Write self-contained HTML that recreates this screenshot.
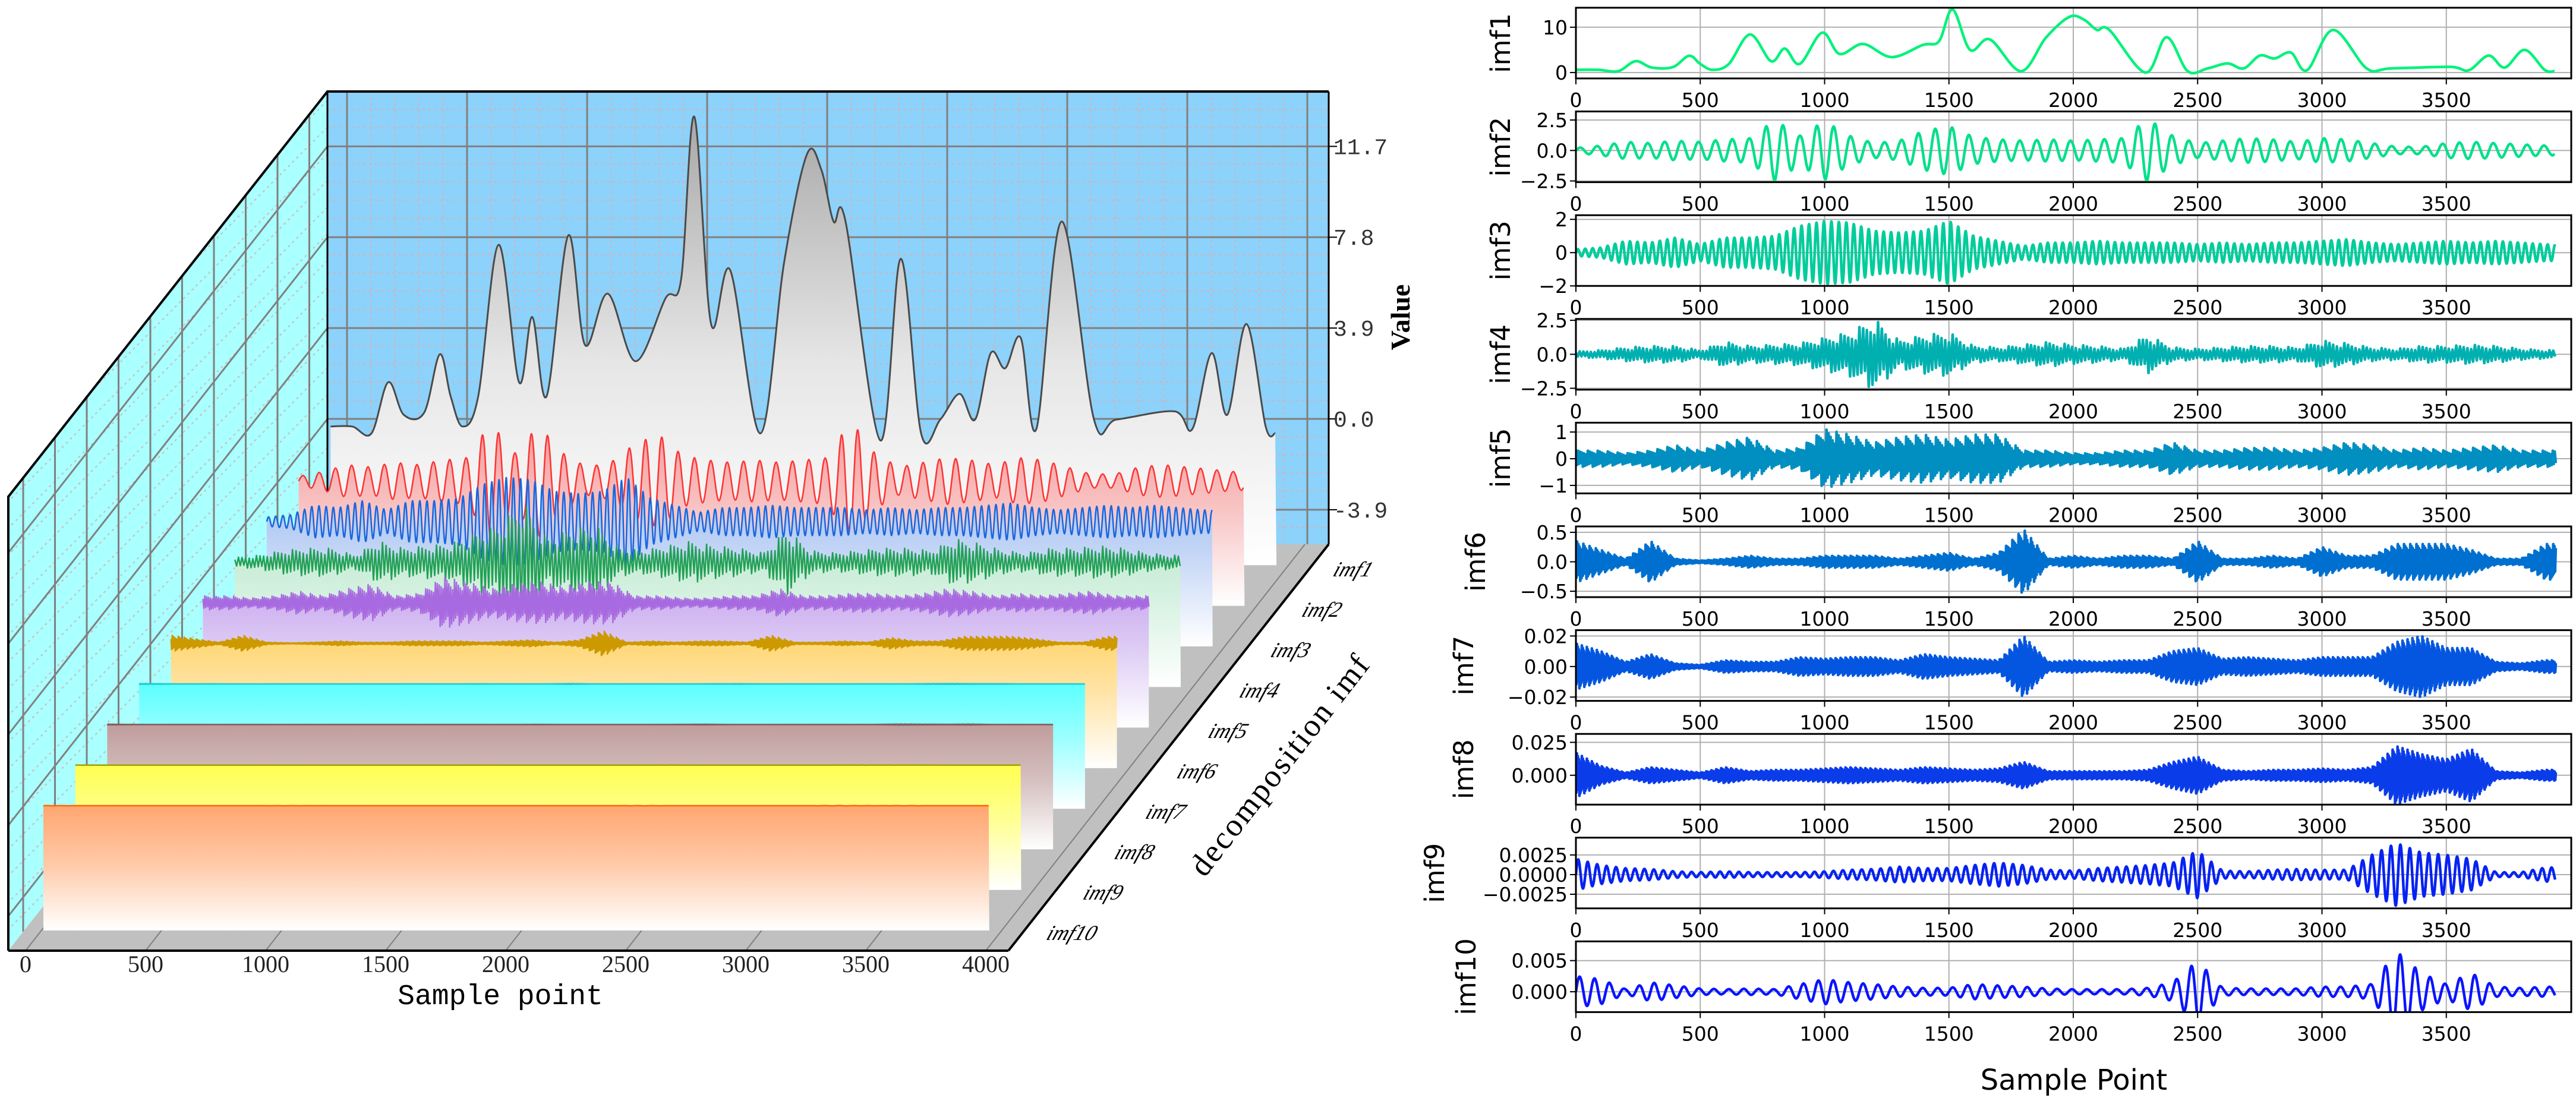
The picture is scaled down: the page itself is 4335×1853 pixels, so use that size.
<!DOCTYPE html>
<html><head><meta charset="utf-8"><style>html,body{margin:0;padding:0;background:#fff;overflow:hidden}svg{display:block}</style></head>
<body>
<svg id="fig" xmlns="http://www.w3.org/2000/svg" width="4335" height="1853" viewBox="0 0 4335 1853">
<defs id="defs"></defs>
<g id="left"></g>
<g id="right"></g>
</svg>
<script>
// ---- data ----
const imfNames = ["imf1","imf2","imf3","imf4","imf5","imf6","imf7","imf8","imf9","imf10"];
const imf1Samples = [0,90,170,240,305,390,455,500,550,615,700,785,840,900,990,1060,1155,1270,1395,1460,1515,1585,1665,1790,1890,1985,2045,2095,2145,2290,2375,2460,2540,2620,2685,2750,2810,2875,2940,3045,3180,3275,3515,3590,3670,3735,3815,3895,3935];
const imf1Values = [0.6,0.6,0.3,2.5,1.1,1.2,3.7,1.9,0.6,1.9,8.4,2.5,5.3,1.9,8.8,4.1,6.3,3.4,6.1,6.9,13.9,5,7.3,0.3,7.7,12.3,11.6,9.4,9.4,0,7.8,0.3,0.9,2,0.9,3.75,3.1,4.4,0.5,9.4,0.9,0.9,1.25,0.5,3.75,1.1,5,0.6,0.3];
// envelope amplitudes per 100 samples (0..3900)
const imf2Env = [0.2,0.4,0.7,0.6,0.8,0.7,0.9,1.0,2.5,1.2,2.4,1.2,0.6,0.8,1.6,2.0,1.1,0.9,0.8,0.9,0.8,0.9,1.0,2.6,1.2,0.6,0.8,1.0,0.9,0.7,1.0,0.9,0.6,0.3,0.3,0.6,0.7,0.6,0.5,0.4];
const imf3Env = [0.2,0.3,0.7,0.6,0.9,0.5,0.9,0.9,1.0,1.6,1.9,1.8,1.3,1.2,1.3,1.9,1.0,0.7,0.4,0.6,0.6,0.7,0.6,0.6,0.6,0.5,0.6,0.5,0.6,0.6,0.7,0.8,0.6,0.5,0.6,0.7,0.6,0.7,0.6,0.5];
const imf4Env = [0.2,0.3,0.5,0.6,0.6,0.3,0.9,0.6,0.7,0.8,1.2,1.6,2.6,1.0,1.4,1.6,0.6,0.5,0.7,0.9,0.7,0.6,0.4,1.4,0.5,0.4,0.5,0.6,0.6,0.5,1.0,0.8,0.5,0.4,0.6,0.6,0.7,0.6,0.4,0.3];
const imf5Env = [0.3,0.3,0.2,0.3,0.5,0.3,0.6,0.8,0.3,0.4,1.1,0.9,0.6,0.8,0.9,0.7,0.9,0.9,0.3,0.3,0.2,0.2,0.3,0.3,0.6,0.3,0.3,0.4,0.4,0.3,0.4,0.6,0.5,0.3,0.4,0.3,0.4,0.5,0.3,0.3];
const imf6Env = [0.35,0.2,0.05,0.35,0.05,0.02,0.05,0.1,0.05,0.05,0.1,0.1,0.1,0.05,0.1,0.15,0.05,0.15,0.55,0.05,0.1,0.05,0.1,0.1,0.05,0.35,0.05,0.05,0.1,0.05,0.25,0.1,0.1,0.3,0.3,0.3,0.2,0.05,0.05,0.3];
const imf7Env = [0.015,0.01,0.003,0.008,0.002,0.001,0.004,0.003,0.003,0.006,0.005,0.006,0.006,0.004,0.008,0.006,0.005,0.004,0.02,0.003,0.004,0.003,0.004,0.004,0.01,0.012,0.005,0.006,0.005,0.004,0.006,0.006,0.006,0.016,0.02,0.012,0.012,0.003,0.002,0.004];
const imf8Env = [0.017,0.007,0.002,0.006,0.004,0.002,0.006,0.003,0.004,0.004,0.005,0.006,0.005,0.004,0.006,0.005,0.004,0.005,0.01,0.003,0.003,0.003,0.003,0.004,0.01,0.014,0.004,0.003,0.004,0.004,0.005,0.004,0.006,0.022,0.016,0.012,0.02,0.003,0.002,0.004];
const imf9Env = [0.002,0.0012,0.0008,0.0007,0.0004,0.0003,0.0004,0.0003,0.0003,0.0003,0.0004,0.0006,0.0007,0.001,0.0008,0.0008,0.0012,0.0015,0.0012,0.0006,0.0005,0.0008,0.001,0.0012,0.0015,0.003,0.0005,0.0004,0.0006,0.0007,0.0006,0.0006,0.0025,0.004,0.0028,0.0025,0.002,0.0003,0.0003,0.0009];
const imf10Env = [0.0025,0.002,0.0004,0.0015,0.001,0.0005,0.0004,0.0005,0.0004,0.0012,0.002,0.0015,0.0012,0.0008,0.0006,0.0006,0.0012,0.001,0.0008,0.0005,0.0004,0.0004,0.0004,0.0006,0.0015,0.005,0.0006,0.0005,0.0005,0.0005,0.0008,0.0008,0.0012,0.0065,0.003,0.0012,0.003,0.0008,0.0006,0.0008];
const xTicks = [0,500,1000,1500,2000,2500,3000,3500];
const leftXTicks = [0,500,1000,1500,2000,2500,3000,3500,4000];
const valueTicks = [-3.9,0.0,3.9,7.8,11.7];
const yLims = [[-1.3,14.3],[-2.6,3.2],[-2.0,2.25],[-2.6,2.6],[-1.3,1.35],[-0.6,0.6],[-0.0225,0.0238],[-0.0223,0.0314],[-0.0043,0.0047],[-0.00327,0.00808]];
const yTickVals = [[0,10],[-2.5,0,2.5],[-2,0,2],[-2.5,0,2.5],[-1,0,1],[-0.5,0,0.5],[-0.02,0,0.02],[0,0.025],[-0.0025,0,0.0025],[0,0.005]];
const yTickLabels = [["0","10"],["\u22122.5","0.0","2.5"],["\u22122","0","2"],["\u22122.5","0.0","2.5"],["\u22121","0","1"],["\u22120.5","0.0","0.5"],["\u22120.02","0.00","0.02"],["0.000","0.025"],["\u22120.0025","0.0000","0.0025"],["0.000","0.005"]];

const NS="http://www.w3.org/2000/svg";
function mk(tag,attrs,parent,txt){const e=document.createElementNS(NS,tag);for(const k in attrs)e.setAttribute(k,attrs[k]);if(txt!==undefined)e.textContent=txt;parent.appendChild(e);return e;}
const envs=[null,imf2Env,imf3Env,imf4Env,imf5Env,imf6Env,imf7Env,imf8Env,imf9Env,imf10Env];
const periods=[0,68,30,15,8,5,4,4,38,60];
const END=3940;
function envAt(env,s){const p=s/100;const i=Math.min(Math.floor(p),env.length-1);const j=Math.min(i+1,env.length-1);const f=p-i;return env[i]*(1-f)+env[j]*f;}
function series(k){
  if(k===0){const pts=[];for(let i=0;i<imf1Samples.length;i++)pts.push([imf1Samples[i],imf1Values[i]]);return pts;}
  const env=envs[k],per=periods[k],pts=[];const step=per>=20?per/8:per/2;
  let n=0;for(let s=0;s<=END;s+=step,n++){const a=envAt(env,s);let v;
    if(per>=20)v=Math.sin(2*Math.PI*s/per)*a;else v=(n%2?-1:1)*a*(0.55+0.45*((n*7)%5)/4);
    pts.push([s,v]);}
  return pts;
}
function smoothPath(P){let d="M"+P[0][0].toFixed(1)+","+P[0][1].toFixed(1);
  for(let i=0;i<P.length-1;i++){const p0=P[Math.max(i-1,0)],p1=P[i],p2=P[i+1],p3=P[Math.min(i+2,P.length-1)];
    const c1=[p1[0]+(p2[0]-p0[0])/6,p1[1]+(p2[1]-p0[1])/6],c2=[p2[0]-(p3[0]-p1[0])/6,p2[1]-(p3[1]-p1[1])/6];
    d+="C"+c1[0].toFixed(1)+","+c1[1].toFixed(1)+" "+c2[0].toFixed(1)+","+c2[1].toFixed(1)+" "+p2[0].toFixed(1)+","+p2[1].toFixed(1);}
  return d;}
function linePath(P){return "M"+P.map(p=>p[0].toFixed(1)+","+p[1].toFixed(1)).join("L");}
function pathFor(k,P){return (k===0||periods[k]>=20)?smoothPath(P):linePath(P);}

const defs=document.getElementById('defs');
// ================= LEFT 3D CHART =================
const L=document.getElementById('left');
const SX=0.404, VS=39.2, DX=53.7, DY=-68.3;
const FX0=73, FBASE=1356, FBOT=1566;
const BWX=551,BWR=2236,BWT=154,BWB=916, ZERO_Y=705;
const lx=(s,k)=>FX0+DX*k+s*SX;
const vy=v=>ZERO_Y-v*VS;
let e=mk('rect',{x:BWX,y:BWT,width:BWR-BWX,height:BWB-BWT,fill:'#8cd2fb'},L);

for(let y=BWT+30;y<BWB;y+=30.6)mk('line',{x1:BWX,x2:BWR,y1:y,y2:y,stroke:'#d9b0b0','stroke-width':2,'stroke-dasharray':'4 6'},L);
for(let x=584;x<BWR;x+=40.4)mk('line',{x1:x,x2:x,y1:BWT,y2:BWB,stroke:'#d9b0b0','stroke-width':2,'stroke-dasharray':'4 6'},L);
for(let s=0;s<=4000;s+=500){const x=584+s*SX;if(x<BWR)mk('line',{x1:x,x2:x,y1:BWT,y2:BWB,stroke:'#808080','stroke-width':3},L);}
valueTicks.forEach(v=>{const y=vy(v);mk('line',{x1:BWX,x2:BWR,y1:y,y2:y,stroke:'#808080','stroke-width':3},L);});
// left wall
const wallPts=`14,836 ${BWX},${BWT} ${BWX},${BWB} 14,1600`;
const wc=mk('clipPath',{id:'wallclip'},defs);mk('polygon',{points:wallPts},wc);
e=mk('polygon',{points:wallPts,fill:'#aaffff'},L);

const WG=mk('g',{'clip-path':'url(#wallclip)'},L);
for(let y=BWT-300;y<1060;y+=45)mk('line',{x1:BWX,y1:y,x2:14,y2:y+540,stroke:'#d0b8b8','stroke-width':2,'stroke-dasharray':'4 6'},WG);
for(let k=0;k<10;k++){const x=39+53.5*k;const yt=836-(x-14)*684/537;mk('line',{x1:x,x2:x,y1:yt,y2:1600-(x-14)*684/537,stroke:'#808080','stroke-width':3},WG);}
valueTicks.forEach(v=>{const y=vy(v);mk('line',{x1:BWX,y1:y,x2:14,y2:Math.min(y+684,1600),stroke:'#808080','stroke-width':3},WG);});
mk('polyline',{points:`14,1600 14,836 ${BWX},${BWT} ${BWR},${BWT}`,fill:'none',stroke:'#000','stroke-width':4},L);
mk('line',{x1:BWX,x2:BWX,y1:BWT,y2:BWB,stroke:'#000','stroke-width':3},L);
// floor
e=mk('polygon',{points:`14,1600 ${BWX},${BWB} ${BWR},${BWB} 1697,1600`,fill:'#c0c0c0'},L);

leftXTicks.forEach(s=>{const x=43+s*SX;mk('line',{x1:x,y1:1600,x2:x+537,y2:BWB,stroke:'#808080','stroke-width':2},L);});
mk('line',{x1:BWR,y1:BWB,x2:1697,y2:1600,stroke:'#000','stroke-width':4},L);
mk('line',{x1:14,y1:1600,x2:1697,y2:1600,stroke:'#000','stroke-width':4},L);
mk('line',{x1:BWR,y1:BWT,x2:BWR,y2:BWB,stroke:'#000','stroke-width':3},L);
// layers
const fills=['#a8a8a8','#f59c9c','#9ebcf0','#b4e6c8','#c8a4ee','#ffd46a','#5cffff','#c09c9c','#ffff50','#ffa670'];
const mids =['#e6e6e6','#f8c4c4','#c4d6f6','#d2f0de','#dccaf4','#ffe4a8','#9effff','#d6c0c0','#ffff96','#ffc8a6'];
const strokes=['#4a4a4a','#ff3333','#1a66dd','#22a055','#a86ae0','#cc9900','#22cccc','#806060','#a0a000','#ff6600'];
for(let i=0;i<10;i++){
  const k=9-i;
  const g=mk('linearGradient',{id:'lg'+i,x1:0,y1:0,x2:0,y2:1},defs);
  mk('stop',{offset:'0','stop-color':fills[i]},g);mk('stop',{offset:i===0?'0.55':'0.45','stop-color':mids[i]},g);mk('stop',{offset:'1','stop-color':'#ffffff'},g);
  const base=FBASE+DY*k, bot=FBOT+DY*k;
  const P=series(i).map(p=>[lx(p[0],k),base-p[1]*VS]);
  const d=pathFor(i,P);
  const x0=lx(0,k),x1=lx(END,k);
  const area=mk('path',{d:d+`L${x1.toFixed(1)},${bot}L${x0.toFixed(1)},${bot}Z`,fill:`url(#lg${i})`},L);
  
  
  const ln=mk('path',{d:d,fill:'none',stroke:strokes[i],'stroke-width':i===0?3:2.5,'stroke-linejoin':'round'},L);
  
  
  const t=mk('text',{x:0,y:0,transform:`translate(${1800+52.6*k},${1582-68*k}) skewX(-20)`,'font-family':'Liberation Serif, serif','font-style':'italic','font-size':36,fill:'#000','text-anchor':'middle'},L,imfNames[i]);
  
  
}
leftXTicks.forEach(s=>{const t=mk('text',{x:43+s*SX,y:1636,'font-family':'Liberation Serif, serif','font-size':40,fill:'#222','text-anchor':'middle'},L,String(s));
  });
valueTicks.forEach(v=>{const y=vy(v);mk('line',{x1:BWR,x2:BWR+14,y1:y,y2:y,stroke:'#000','stroke-width':2},L);
  const t=mk('text',{x:BWR+8,y:y+13,'font-family':'Liberation Mono, monospace','font-size':38,fill:'#333'},L,v.toFixed(1));
  });
e=mk('text',{x:0,y:0,transform:'translate(2372,534) rotate(-90)','font-family':'Liberation Serif, serif','font-weight':'bold','font-size':46,'text-anchor':'middle'},L,'Value');

e=mk('text',{x:842,y:1690,'font-family':'Liberation Mono, monospace','font-size':48,'text-anchor':'middle'},L,'Sample point');

e=mk('text',{x:0,y:0,transform:'translate(2168,1298) rotate(-52)','font-family':'Liberation Serif, serif','font-size':54,'text-anchor':'middle','letter-spacing':3},L,'decomposition imf');


// ================= RIGHT SUBPLOTS =================
const R=document.getElementById('right');
const PX0=2652, PW=1675, PPX=0.4185, PT0=13, PSTEP=174.6, PH=119;
const rcols=['#00f27a','#00e08a','#00cc9c','#00b0b0','#008fc0','#0070d0','#0456e0','#0a3cea','#0622f2','#0a14ff'];
const ylabX=[2541,2541,2541,2541,2541,2499,2479,2479,2430,2483];
const rx=s=>PX0+s*PPX;
for(let i=0;i<10;i++){
  const T=PT0+PSTEP*i, lim=yLims[i];
  const ry=v=>T+PH-(v-lim[0])/(lim[1]-lim[0])*PH;
  const g=mk('g',{},R);
  
  
  const cid='clip'+i;const cp=mk('clipPath',{id:cid},defs);mk('rect',{x:PX0,y:T,width:PW,height:PH},cp);
  xTicks.forEach(s=>{mk('line',{x1:rx(s),x2:rx(s),y1:T,y2:T+PH,stroke:'#b0b0b0','stroke-width':2},g);
    mk('line',{x1:rx(s),x2:rx(s),y1:T+PH,y2:T+PH+10,stroke:'#000','stroke-width':2},g);
    const t=mk('text',{x:rx(s),y:T+PH+48,'font-family':'DejaVu Sans, sans-serif','font-size':33,'text-anchor':'middle'},g,String(s));
    });
  yTickVals[i].forEach((v,j)=>{const y=ry(v);mk('line',{x1:PX0,x2:PX0+PW,y1:y,y2:y,stroke:'#b0b0b0','stroke-width':2},g);
    mk('line',{x1:PX0-10,x2:PX0,y1:y,y2:y,stroke:'#000','stroke-width':2},g);
    const t=mk('text',{x:PX0-14,y:y+12,'font-family':'DejaVu Sans, sans-serif','font-size':33,'text-anchor':'end'},g,yTickLabels[i][j]);
    });
  const P=series(i).map(p=>[rx(p[0]),ry(p[1])]);
  const ln=mk('path',{d:pathFor(i,P),fill:'none',stroke:rcols[i],'stroke-width':4.5,'stroke-linejoin':'round','clip-path':`url(#${cid})`},g);
  
  
  mk('rect',{x:PX0,y:T,width:PW,height:PH,fill:'none',stroke:'#000','stroke-width':3},g);
  const yl=mk('text',{x:0,y:0,transform:`translate(${ylabX[i]},${T+PH/2}) rotate(-90)`,'font-family':'DejaVu Sans, sans-serif','font-size':45,'text-anchor':'middle'},g,imfNames[i]);
  
  
}
e=mk('text',{x:3490,y:1834,'font-family':'DejaVu Sans, sans-serif','font-size':48,'text-anchor':'middle'},R,'Sample Point');

</script>
</body></html>
